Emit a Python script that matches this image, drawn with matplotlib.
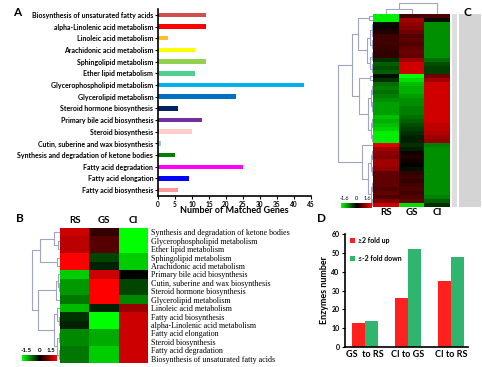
import numpy as np
import matplotlib
matplotlib.use("Agg")
import matplotlib.pyplot as plt
from matplotlib.colors import LinearSegmentedColormap
from matplotlib.patches import Rectangle

W, H = 482, 367

# ---------------- data ----------------
pathways_a = [
    "Biosynthesis of unsaturated fatty acids",
    "alpha-Linolenic acid metabolism",
    "Linoleic acid metabolism",
    "Arachidonic acid metabolism",
    "Sphingolipid metabolism",
    "Ether lipid metabolism",
    "Glycerophospholipid metabolism",
    "Glycerolipid metabolism",
    "Steroid hormone biosynthesis",
    "Primary bile acid biosynthesis",
    "Steroid biosynthesis",
    "Cutin, suberine and wax biosynthesis",
    "Synthesis and degradation of ketone bodies",
    "Fatty acid degradation",
    "Fatty acid elongation",
    "Fatty acid biosynthesis",
]
genes_a = [14, 14, 3, 11, 14, 11, 43, 23, 6, 13, 10, 1, 5, 25, 9, 6]
colors_a = ["#d05050", "#ff0000", "#ffc020", "#ffff00", "#92d050", "#50d090",
            "#00b0f0", "#0070c0", "#002060", "#7030a0", "#ffcccc", "#9dc3e6",
            "#008000", "#ff00ff", "#0000ff", "#ff9999"]
ticks_a = list(range(0, 46, 5))

samples = ["RS", "GS", "CI"]
pathways_b = [
    "Synthesis and degradation of ketone bodies",
    "Glycerophospholipid metabolism",
    "Ether lipid metabolism",
    "Sphingolipid metabolism",
    "Arachidonic acid metabolism",
    "Primary bile acid biosynthesis",
    "Cutin, suberine and wax biosynthesis",
    "Steroid hormone biosynthesis",
    "Glycerolipid metabolism",
    "Linoleic acid metabolism",
    "Fatty acid biosynthesis",
    "alpha-Linolenic acid metabolism",
    "Fatty acid elongation",
    "Steroid biosynthesis",
    "Fatty acid degradation",
    "Biosynthesis of unsaturated fatty acids",
]
rs_b = [1.2, 1.1, 1.1, 1.5, 1.5, -1.2, -0.9, -0.9, -0.7, -1.1, -0.3, -0.2, -0.8, -0.8, -0.7, -0.7]
gs_b = [0.3, 0.5, 0.5, -0.4, -0.2, 1.2, 1.5, 1.5, 1.5, -0.2, -1.5, -1.5, -1.0, -1.0, -1.2, -1.2]
ci_b = [-1.5, -1.5, -1.5, -1.2, -1.2, 0.0, -0.4, -0.4, -0.8, 0.9, 1.2, 1.2, 1.2, 1.2, 1.2, 1.2]

rs_c = [-1.5, -1.5, -0.1, 0.1, 0.2, 0.4, 0.4, 0.4, 0.35, 0.3, 0.3, -0.3, -0.6, -0.5, -0.6,
        -0.1, -0.3, -0.7, -0.8, -0.7, -0.8, -0.9, -1.0, -1.0, -1.0, -1.2, -1.1, -1.2, -1.3,
        -1.5, -1.5, -1.5,
        1.4, 1.0, 0.9, 0.8, 1.0, 1.0, 0.9, 0.6, 0.6, 0.6, 0.6, 0.5, 0.6, 0.5, 0.8, 1.3]
gs_c = [0.4, 1.0, 0.9, 0.8, 0.7, 0.5, 0.6, 0.5, 0.6, 0.7, 0.6, 1.0, 1.3, 1.3, 1.3,
        -1.6, -1.4, -1.2, -1.1, -1.1, -1.0, -0.9, -0.9, -0.8, -0.8, -0.7, -0.6, -0.5, -0.4,
        -0.3, -0.2, -0.2,
        -0.3, -0.2, 0.1, 0.2, 0.1, 0.0, -0.1, 0.3, 0.4, 0.3, 0.4, 0.5, 0.4, 0.5, 0.6, -1.4]
ci_c = [0.5, -0.1, -0.9, -0.9, -0.9, -0.9, -0.9, -0.9, -0.9, -0.9, -0.9, -0.7, -0.5, -0.4, -0.4,
        0.7, 1.0, 1.3, 1.3, 1.3, 1.3, 1.3, 1.3, 1.3, 1.3, 1.3, 1.3, 1.2, 1.2,
        1.1, 1.0, 0.9,
        -0.8, -0.9, -0.9, -0.9, -0.9, -0.9, -0.9, -0.9, -0.9, -0.9, -0.9, -0.9, -0.9, -0.8, -0.6, -0.3]

groups_d = ["GS  to RS", "CI to GS", "CI to RS"]
up_d = [13, 26, 35]
down_d = [14, 52, 48]

# ---------------- helpers ----------------
fig = plt.figure(figsize=(W / 100, H / 100), dpi=100)
fig.patch.set_facecolor("white")
SANS = ["Lato", "DejaVu Sans"]
SERIF = ["Liberation Serif", "DejaVu Serif"]


def ax_px(x0, y0, x1, y1):
    return fig.add_axes([x0 / W, 1 - y1 / H, (x1 - x0) / W, (y1 - y0) / H])


cmap = LinearSegmentedColormap.from_list("gkr", ["#00ff00", "#000000", "#ff0000"])
DCOL = "#a0a4c4"


def draw_tree(ax, node, horizontal=True):
    if isinstance(node, int):
        return node, 0.0
    h, l, r = node
    pl, hl = draw_tree(ax, l, horizontal)
    pr, hr = draw_tree(ax, r, horizontal)
    xs = [hl, h, h, hr]
    ys = [pl, pl, pr, pr]
    if horizontal:
        ax.plot(xs, ys, color=DCOL, lw=0.8, solid_capstyle="butt")
    else:
        ax.plot(ys, xs, color=DCOL, lw=0.8, solid_capstyle="butt")
    return (pl + pr) / 2.0, h


def balanced(lo, hi, h):
    if lo == hi:
        return lo
    mid = (lo + hi) // 2
    return (h, balanced(lo, mid, h * 0.45), balanced(mid + 1, hi, h * 0.45))


def clean(ax):
    for s in ax.spines.values():
        s.set_visible(False)
    ax.set_xticks([])
    ax.set_yticks([])
    ax.patch.set_alpha(0)


# ---------------- Panel A ----------------
axA = ax_px(158, 9, 311, 196)
ya = np.arange(len(pathways_a))
axA.barh(ya, genes_a, height=0.38, color=colors_a)
axA.set_ylim(len(pathways_a) - 0.5, -0.5)
axA.set_xlim(0, 45)
axA.set_xticks(ticks_a)
axA.set_xticklabels([str(t) for t in ticks_a], fontsize=4.7, family=SANS, fontweight="bold")
axA.set_yticks(ya)
axA.set_yticklabels(pathways_a, fontsize=5.0, family=SANS, fontweight="bold")
for s in ["top", "right"]:
    axA.spines[s].set_visible(False)
for s in ["left", "bottom"]:
    axA.spines[s].set_linewidth(1.2)
axA.tick_params(axis="both", length=2, width=0.8, pad=1.5)
axA.set_xlabel("Number of Matched Genes", fontsize=6.5, fontweight="bold", family=SANS, labelpad=-1)

# ---------------- Panel B ----------------
axB = ax_px(60, 228, 148, 363)
mat_b = np.array([rs_b, gs_b, ci_b]).T
axB.imshow(mat_b, cmap=cmap, vmin=-1.5, vmax=1.5, aspect="auto", interpolation="nearest")
axB.xaxis.tick_top()
axB.set_xticks(range(3))
axB.set_xticklabels(samples, fontsize=7, fontweight="bold", family=SANS)
axB.yaxis.tick_right()
axB.set_yticks(range(len(pathways_b)))
axB.set_yticklabels(pathways_b, fontsize=5.8, family=SERIF)
axB.tick_params(length=0, pad=2)
for s in axB.spines.values():
    s.set_visible(False)

tree_b = (1.0,
          (0.72, (0.22, 0, (0.08, 1, 2)), (0.12, 3, 4)),
          (0.78, (0.15, (0.08, 5, (0.04, 6, 7)), 8),
           (0.2, (0.1, 9, (0.04, 10, 11)), (0.1, (0.04, 12, 13), (0.04, 14, 15)))))
axBd = ax_px(30, 228, 60, 363)
draw_tree(axBd, tree_b)
axBd.set_ylim(len(pathways_b) - 0.5, -0.5)
axBd.set_xlim(1.08, 0)
clean(axBd)

axBc = ax_px(22, 355, 57, 361)
axBc.imshow(np.linspace(-1.5, 1.5, 100)[None, :], cmap=cmap, aspect="auto")
clean(axBc)
for lab, xp in zip(["-1.5", "0", "1.5"], [26, 40, 51]):
    fig.text(xp / W, 1 - 351 / H, lab, fontsize=4.5, fontweight="bold", family=SANS,
             ha="center", va="center")

# ---------------- Panel C ----------------
axC = ax_px(373, 14, 450, 207)
mat_c = np.array([rs_c, gs_c, ci_c]).T
axC.imshow(mat_c, cmap=cmap, vmin=-1.6, vmax=1.6, aspect="auto", interpolation="nearest")
axC.set_xticks(range(3))
axC.set_xticklabels(samples, fontsize=7, fontweight="bold", family=SANS)
axC.set_yticks([])
axC.tick_params(length=0, pad=1)
for s in axC.spines.values():
    s.set_visible(False)

nC = len(rs_c)
tree_c = (1.0,
          (0.6,
           (0.42, balanced(0, 1, 0.1), balanced(2, 14, 0.18)),
           (0.4, balanced(15, 16, 0.08), balanced(17, 31, 0.15))),
          (0.3, 32, balanced(33, 47, 0.14)))
axCd = ax_px(336, 14, 373, 207)
draw_tree(axCd, tree_c)
axCd.set_ylim(nC - 0.5, -0.5)
axCd.set_xlim(1.05, 0)
clean(axCd)

tree_c_cols = (1.0, (0.4, 0, 1), 2)
axCt = ax_px(373, 2, 450, 14)
draw_tree(axCt, tree_c_cols, horizontal=False)
axCt.set_xlim(-0.5, 2.5)
axCt.set_ylim(0, 1.05)
clean(axCt)

fig.patches.append(Rectangle((452 / W, 1 - 207 / H), 5 / W, 193 / H, transform=fig.transFigure,
                             facecolor="#dedede", edgecolor="none"))
fig.patches.append(Rectangle((459 / W, 1 - 207 / H), 22 / W, 193 / H, transform=fig.transFigure,
                             facecolor="#d4d4d4", edgecolor="none"))

axCc = ax_px(341, 203, 372, 208)
axCc.imshow(np.linspace(-1.6, 1.6, 100)[None, :], cmap=cmap, aspect="auto")
clean(axCc)
for lab, xp in zip(["-1.6", "0", "1.6"], [344, 356, 367]):
    fig.text(xp / W, 1 - 199 / H, lab, fontsize=4, family=SANS, ha="center", va="center")

# ---------------- Panel D ----------------
axD = ax_px(345, 234, 468, 347)
xd = np.arange(len(groups_d))
bw = 0.31
axD.bar(xd - bw / 2, up_d, bw, color="#ff2020", label="\u22652 fold up")
axD.bar(xd + bw / 2, down_d, bw, color="#2fb56e", label="\u2264-2 fold down")
axD.set_xlim(-0.47, 2.4)
axD.set_ylim(0, 60)
axD.set_yticks(range(0, 61, 10))
axD.set_yticklabels([str(v) for v in range(0, 61, 10)], fontsize=5, family=SANS, fontweight="bold")
axD.set_xticks(xd)
axD.set_xticklabels(groups_d, fontsize=6.5, fontweight="bold", family=SANS)
for s in ["top", "right"]:
    axD.spines[s].set_visible(False)
for s in ["left", "bottom"]:
    axD.spines[s].set_linewidth(1.2)
axD.tick_params(axis="y", length=2.5, width=0.8, pad=1.5)
axD.tick_params(axis="x", length=0, pad=2)
axD.set_ylabel("Enzymes number", fontsize=6.5, fontweight="bold", family=SANS, labelpad=2)
axD.legend(loc="upper left", frameon=False, prop={"family": SANS, "size": 5, "weight": "bold"},
           handlelength=0.8, handleheight=0.8, handletextpad=0.4, labelspacing=1.6,
           bbox_to_anchor=(0.0, 1.02), borderaxespad=0.3)

# ---------------- panel letters ----------------
for lab, xp, yp in [("A", 17, 13), ("B", 20, 218), ("C", 467, 12), ("D", 322, 218)]:
    fig.text(xp / W, 1 - yp / H, lab, fontsize=8.5, fontweight="bold", family=SANS,
             ha="center", va="center")

fig.savefig("out.png", dpi=100)
